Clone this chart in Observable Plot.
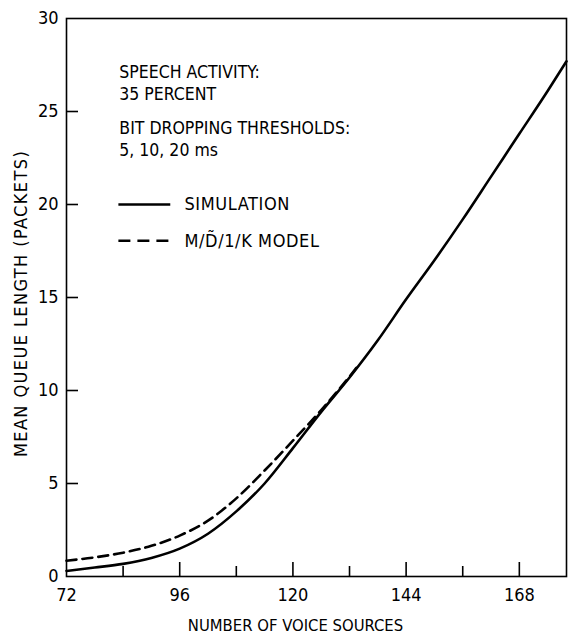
<!DOCTYPE html>
<html>
<head>
<meta charset="utf-8">
<script src="https://cdn.jsdelivr.net/npm/d3@7"></script>
<script src="https://cdn.jsdelivr.net/npm/@observablehq/plot@0.6"></script>
<style>
  html, body { margin: 0; padding: 0; background: #fff; }
  #chart { width: 570px; height: 637px; }
</style>
</head>
<body>
<div id="chart"></div>
<script>
// ---- data ----
const simX   = [72, 78, 84, 90, 96, 102, 108, 114, 120, 126, 132, 138, 144, 150, 156, 162, 168, 174, 178];
const simY   = [0.3, 0.48, 0.68, 1.0, 1.5, 2.3, 3.5, 5.0, 6.9, 8.85, 10.7, 12.7, 14.9, 17.0, 19.2, 21.5, 23.8, 26.1, 27.7];
const modelX = [72, 78, 84, 90, 96, 102, 108, 114, 120, 126, 132, 134];
const modelY = [0.85, 1.03, 1.28, 1.65, 2.2, 3.0, 4.2, 5.7, 7.3, 8.95, 10.75, 11.4];

const xTickLabels = [72, 96, 120, 144, 168];
const xMajorTicks = [96, 120, 144, 168];
const xMinorTicks = [84, 108, 132, 156];
const yTickLabels = [0, 5, 10, 15, 20, 25, 30];
const yTicks      = [5, 10, 15, 20, 25];

const noteLines   = ["SPEECH ACTIVITY:", "35 PERCENT", "BIT DROPPING THRESHOLDS:", "5, 10, 20 ms"];
const legendNames = ["SIMULATION", "M/D\u0303/1/K MODEL"];
const xLabel = "NUMBER OF VOICE SOURCES";
const yLabel = "MEAN QUEUE LENGTH (PACKETS)";

const sim   = simX.map((x, i) => ({x, y: simY[i]}));
const model = modelX.map((x, i) => ({x, y: modelY[i]}));

// layout constants (not data)
const noteY   = [27.1, 25.9, 24.1, 22.9];
const legendY = [20.0, 18.05];
const FONT = "DejaVu Sans Condensed, DejaVu Sans, sans-serif";
const W = 570, H = 637, ML = 66, MR = 4, MT = 18, MB = 61;
const X0 = 72, X1 = 178, Y0 = 0, Y1 = 30;
const pxPerX = (W - ML - MR) / (X1 - X0);
const pxPerY = (H - MT - MB) / (Y1 - Y0);
const majorLen = 14 / pxPerY, minorLen = 10 / pxPerY, yTickLen = 12 / pxPerX;

const majorTickData = xMajorTicks.map(v => ({v}));
const minorTickData = xMinorTicks.map(v => ({v}));
const yTickData     = yTicks.map(v => ({v}));

const chart = Plot.plot({
  width: W,
  height: H,
  marginLeft: ML,
  marginRight: MR,
  marginTop: MT,
  marginBottom: MB,
  x: {domain: [X0, X1]},
  y: {domain: [Y0, Y1]},
  style: {fontFamily: FONT, fontSize: "18px", color: "black", background: "white"},
  marks: [
    Plot.frame({stroke: "black", strokeWidth: 1.6}),
    Plot.axisX({ticks: xTickLabels, tickSize: 0, tickPadding: 12, label: null, fontSize: 18}),
    Plot.axisY({ticks: yTickLabels, tickSize: 0, tickPadding: 8, label: null, fontSize: 18}),
    // curves
    Plot.line(sim, {x: "x", y: "y", curve: "monotone-x", stroke: "black", strokeWidth: 2.6}),
    Plot.line(model, {x: "x", y: "y", curve: "monotone-x", stroke: "black", strokeWidth: 2.6, strokeDasharray: "10,6"}),
    // legend samples
    Plot.link([0], {x1: 83, x2: 94, y1: legendY[0], y2: legendY[0], stroke: "black", strokeWidth: 2.4}),
    Plot.link([0], {x1: 83, x2: 94, y1: legendY[1], y2: legendY[1], stroke: "black", strokeWidth: 2.4, strokeDasharray: "12,7"}),
    // texts
    Plot.text([xLabel], {frameAnchor: "bottom", textAnchor: "middle", dx: -21, dy: 49, fontSize: 16.5, lineAnchor: "middle", fill: "black"}),
    Plot.text([yLabel], {frameAnchor: "left", textAnchor: "middle", dx: -45, dy: 6, rotate: -90, fontSize: 18, lineAnchor: "middle", fill: "black"}),
    Plot.text(noteLines, {x: 83.2, y: (d, i) => noteY[i], text: d => d, textAnchor: "start", lineAnchor: "middle", fontSize: 17.5, fill: "black"}),
    Plot.text(legendNames, {x: 97, y: (d, i) => legendY[i], text: d => d, textAnchor: "start", lineAnchor: "middle", fontSize: 18, fill: "black"}),
    // inward ticks, drawn last
    Plot.ruleX(majorTickData, {x: "v", y1: Y0, y2: Y0 + majorLen, stroke: "black", strokeWidth: 1.6}),
    Plot.ruleX(minorTickData, {x: "v", y1: Y0, y2: Y0 + minorLen, stroke: "black", strokeWidth: 1.6}),
    Plot.ruleY(yTickData, {y: "v", x1: X0, x2: X0 + yTickLen, stroke: "black", strokeWidth: 1.6})
  ]
});
const textGroups = chart.querySelectorAll('g[aria-label="text"]');
if (textGroups[1]) textGroups[1].querySelectorAll("text").forEach(t => t.style.letterSpacing = "1.4px");
if (textGroups[3]) textGroups[3].querySelectorAll("text").forEach(t => t.style.letterSpacing = "0.6px");
document.getElementById("chart").appendChild(chart);
</script>
</body>
</html>
